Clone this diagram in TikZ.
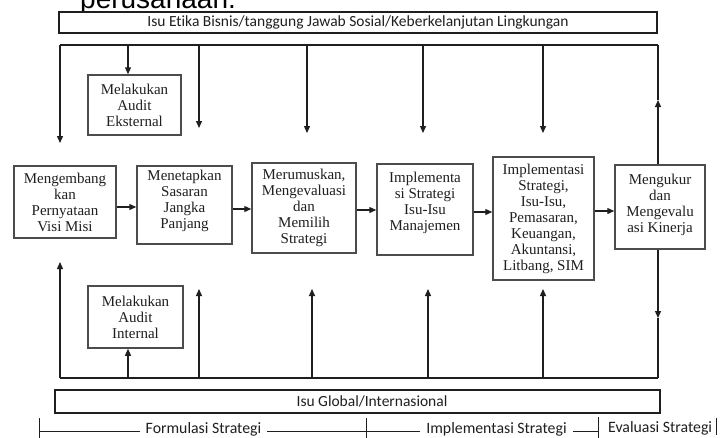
\documentclass[tikz,border=0pt]{standalone}
\usepackage{fontspec}
\setmainfont{Liberation Serif}
\newfontfamily\calfont[Ligatures=NoCommon]{Carlito}
\newfontfamily\arialfont{Liberation Sans}
\usetikzlibrary{arrows.meta}
\definecolor{boxgray}{gray}{0.30}
\definecolor{linecol}{gray}{0.12}
\definecolor{txtcol}{gray}{0.12}
\begin{document}
\begin{tikzpicture}[x=1pt,y=-1pt,
  procbox/.style={draw=boxgray, fill=white, line width=1.5pt, align=center, inner sep=0pt,
    font=\fontsize{15}{16}\selectfont, text=txtcol},
  widebox/.style={draw=linecol, fill=white, line width=1.2pt, inner sep=0pt,
    font=\calfont\fontsize{15.5}{18}\selectfont, text=txtcol},
  conn/.style={draw=linecol, line width=1.3pt},
  arr/.style={conn, -{Triangle[length=7pt,width=6pt]}},
  brk/.style={draw=linecol, line width=0.9pt},
  lbl/.style={font=\calfont\fontsize{15.8}{18}\selectfont, fill=white,
    inner xsep=6pt, inner ysep=0pt, text=txtcol, anchor=base}]
\useasboundingbox (0,0) rectangle (727,437);
\clip (0,0) rectangle (727,437);
\fill[white] (0,0) rectangle (727,437);

% cut-off heading at the top (only its lower part is inside the picture)
\node[font=\arialfont\fontsize{28}{30}\selectfont, anchor=base west, inner sep=0pt] (per) at (80,8) {perusahaan.};

% wide boxes
\node[widebox, minimum width=598pt, minimum height=21pt] (top) at (358,22.5)
  {Isu Etika Bisnis/tanggung Jawab Sosial/Keberkelanjutan Lingkungan};
\node[widebox, minimum width=605pt, minimum height=23pt] (glob) at (357.5,401.5)
  {\hspace*{29pt}Isu Global/Internasional};

% process boxes
\node[procbox, minimum width=102pt, minimum height=72pt] (b1) at (65,202)
  {Mengembang\\kan\\Pernyataan\\Visi Misi};
\node[procbox, minimum width=95pt, minimum height=78pt] (b2) at (184.5,205)
  {Menetapkan\\Sasaran\\Jangka\\Panjang\\[-4pt]\mbox{}};
\node[procbox, minimum width=104pt, minimum height=90pt] (b3) at (304,208)
  {Merumuskan,\\Mengevaluasi\\dan\\Memilih\\Strategi};
\node[procbox, minimum width=96pt, minimum height=91pt] (b4) at (425,209.5)
  {Implementa\\si Strategi\\Isu-Isu\\Manajemen\\\mbox{}};
\node[procbox, minimum width=101pt, minimum height=123pt] (b5) at (543.5,218.5)
  {Implementasi\\Strategi,\\Isu-Isu,\\Pemasaran,\\Keuangan,\\Akuntansi,\\Litbang, SIM};
\node[procbox, minimum width=90pt, minimum height=84pt] (b6) at (660,207)
  {Mengukur\\dan\\Mengevalu\\asi Kinerja\\[-8pt]\mbox{}};
\node[procbox, minimum width=93pt, minimum height=60pt] (ae) at (134.5,105)
  {Melakukan\\Audit\\Eksternal};
\node[procbox, minimum width=95pt, minimum height=62pt] (ai) at (135.5,317)
  {Melakukan\\Audit\\Internal};

% distribution lines
\coordinate (tl) at (60,45);  \coordinate (tr) at (658,45);
\coordinate (bl) at (60,378); \coordinate (br) at (658,378);
\draw[conn] (tl) -- (tr);
\draw[conn] (bl) -- (br);

% downward arrows from the top line
\coordinate (d1) at (128,45);
\coordinate (d2) at (199,45); \coordinate (e2) at (199,128);
\coordinate (d3) at (307,45); \coordinate (e3) at (307,133);
\coordinate (d4) at (423,45); \coordinate (e4) at (423,133);
\coordinate (d5) at (543,45); \coordinate (e5) at (543,133);
\coordinate (lt) at (60,143);
\draw[arr] (tl) -- (lt);
\draw[arr] (d1) -- (d1 |- ae.north);
\draw[arr] (d2) -- (e2);
\draw[arr] (d3) -- (e3);
\draw[arr] (d4) -- (e4);
\draw[arr] (d5) -- (e5);

% upward arrows from the bottom line
\coordinate (u1) at (128,378);
\coordinate (u2) at (199,378); \coordinate (v2) at (199,289);
\coordinate (u3) at (312,378); \coordinate (v3) at (312,289);
\coordinate (u4) at (428,378); \coordinate (v4) at (428,289);
\coordinate (u5) at (543,378); \coordinate (v5) at (543,289);
\coordinate (lb) at (60,262);
\draw[arr] (bl) -- (lb);
\draw[arr] (u1) -- (u1 |- ai.south);
\draw[arr] (u2) -- (v2);
\draw[arr] (u3) -- (v3);
\draw[arr] (u4) -- (v4);
\draw[arr] (u5) -- (v5);

% right-hand feedback line through the last box
\coordinate (rup) at (658,100);
\coordinate (rdn) at (658,318);
\draw[arr] (tr |- b6.north) -- (rup);
\draw[conn] (rup) -- (tr);
\draw[arr] (tr |- b6.south) -- (rdn);
\draw[conn] (rdn) -- (br);

% arrows between process boxes
\coordinate (h1) at (0,207); \coordinate (h2) at (0,209);
\coordinate (h3) at (0,210); \coordinate (h4) at (0,212);
\coordinate (h5) at (0,211);
\draw[arr] (b1.east |- h1) -- (b2.west |- h1);
\draw[arr] (b2.east |- h2) -- (b3.west |- h2);
\draw[arr] (b3.east |- h3) -- (b4.west |- h3);
\draw[arr] (b4.east |- h4) -- (b5.west |- h4);
\draw[arr] (b5.east |- h5) -- (b6.west |- h5);

% phase bracket
\coordinate (k0) at (39,431); \coordinate (k1) at (366,431);
\coordinate (k2) at (598,431); \coordinate (k3) at (716,431);
\draw[brk] (k0) -- (k1) -- (k2);
\draw[brk] ([yshift=13pt]k0) -- ([yshift=-8pt]k0);
\draw[brk] ([yshift=13pt]k1) -- ([yshift=-8pt]k1);
\draw[brk] ([yshift=14pt]k2) -- ([yshift=-8pt]k2);
\draw[brk] ([yshift=13pt]k3) -- ([yshift=-4pt]k3);
\node[lbl] (fs) at (203.5,433) {Formulasi Strategi};
\node[lbl] (is) at (496.5,433) {Implementasi Strategi};
\node[lbl, fill=none, inner xsep=0pt, anchor=base west] (es) at (608,432) {Evaluasi Strategi};
\end{tikzpicture}
\end{document}
